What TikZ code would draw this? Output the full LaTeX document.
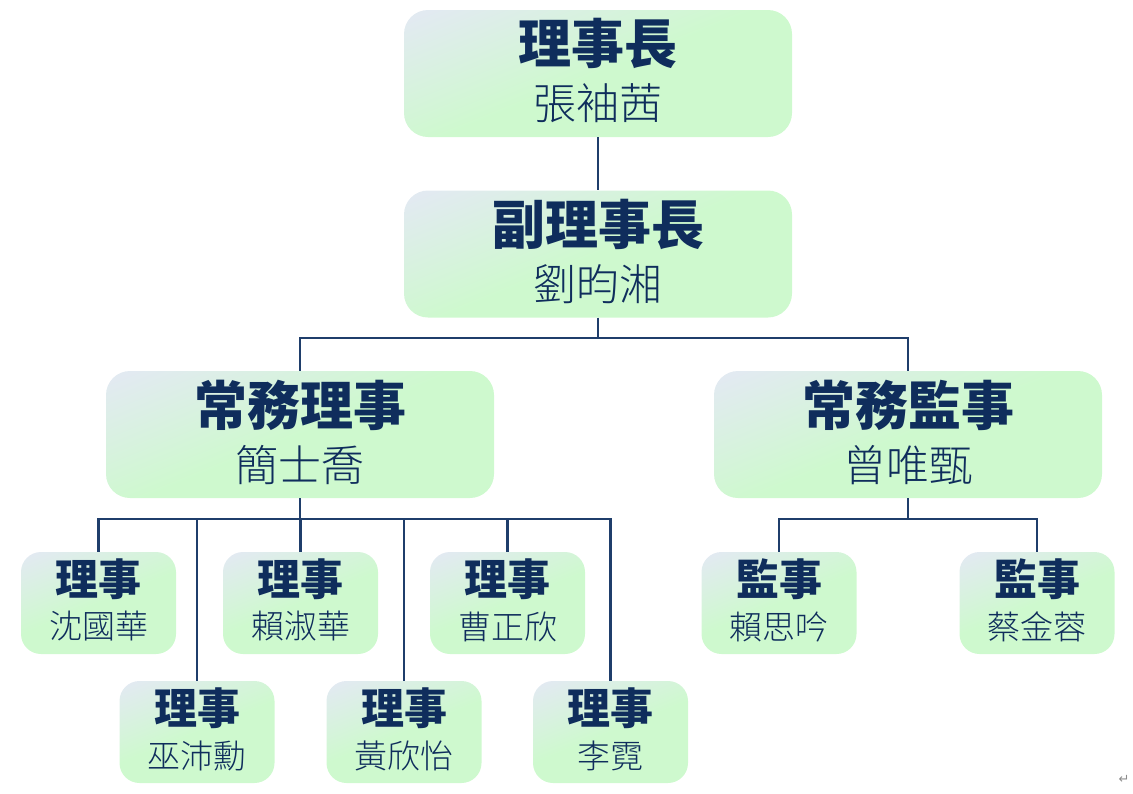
\documentclass[tikz,border=0pt]{standalone}
\usepackage{fontspec}
\newfontfamily\cjk{Noto Sans CJK TC}
\newfontfamily\cjklight{Noto Sans CJK TC Light}
\newfontfamily\djv{DejaVu Sans}
\definecolor{navy}{HTML}{1F3E6B}
\definecolor{txtnavy}{HTML}{0F2D5C}
\definecolor{boxA}{HTML}{E2EAF1}
\definecolor{boxB}{HTML}{CEF9CE}
\pgfdeclareverticalshading{boxshade}{100bp}{color(0bp)=(boxB); color(50bp)=(boxB); color(80bp)=(boxA); color(100bp)=(boxA)}
\tikzset{
  x=1pt,y=-1pt,
  orgbox/.style={rounded corners=24pt, shading=boxshade, shading angle=22, draw=none},
  bigbox/.style={orgbox, minimum width=388pt, minimum height=127pt, inner sep=0pt},
  smallbox/.style={orgbox, rounded corners=20pt, minimum width=155pt, minimum height=102pt, inner sep=0pt},
  bigtitle/.style={font=\cjk\bfseries\fontsize{53}{58}\selectfont, text=txtnavy, inner sep=0pt},
  bigname/.style={font=\cjklight\fontsize{43}{48}\selectfont, text=txtnavy, inner sep=0pt},
  smalltitle/.style={font=\cjk\bfseries\fontsize{43}{48}\selectfont, text=txtnavy, inner sep=0pt},
  smallname/.style={font=\cjklight\fontsize{33}{38}\selectfont, text=txtnavy, inner sep=0pt},
  link/.style={draw=navy, line width=2.2pt},
}
\begin{document}
\begin{tikzpicture}
\useasboundingbox (0,0) rectangle (1133,793);
% big boxes
\node[bigbox] (b1) at (598,73.5) {};
\node[bigtitle] (b1t) at (598,44) {理事長};
\node[bigname] (b1n) at (598,103) {張袖茜};
\node[bigbox] (b2) at (598,254) {};
\node[bigtitle] (b2t) at (598,224.5) {副理事長};
\node[bigname] (b2n) at (598,284) {劉昀湘};
\node[bigbox] (b3) at (300,434.5) {};
\node[bigtitle] (b3t) at (300,405) {常務理事};
\node[bigname] (b3n) at (300,465) {簡士喬};
\node[bigbox] (b4) at (908,434.5) {};
\node[bigtitle] (b4t) at (908,405) {常務監事};
\node[bigname] (b4n) at (908,465) {曾唯甄};
% small boxes
\node[smallbox] (c1) at (98.5,603) {};
\node[smalltitle] (c1t) at (98.5,579.5) {理事};
\node[smallname] (c1n) at (98.5,626.5) {沈國華};
\node[smallbox] (c2) at (300.5,603) {};
\node[smalltitle] (c2t) at (300.5,579.5) {理事};
\node[smallname] (c2n) at (300.5,626.5) {賴淑華};
\node[smallbox] (c3) at (507.5,603) {};
\node[smalltitle] (c3t) at (507.5,579.5) {理事};
\node[smallname] (c3n) at (507.5,626.5) {曹正欣};
\node[smallbox] (c4) at (197,732) {};
\node[smalltitle] (c4t) at (197,708.5) {理事};
\node[smallname] (c4n) at (197,755.5) {巫沛勳};
\node[smallbox] (c5) at (404,732) {};
\node[smalltitle] (c5t) at (404,708.5) {理事};
\node[smallname] (c5n) at (404,755.5) {黃欣怡};
\node[smallbox] (c6) at (610.5,732) {};
\node[smalltitle] (c6t) at (610.5,708.5) {理事};
\node[smallname] (c6n) at (610.5,755.5) {李霓};
\node[smallbox] (d1) at (779,603) {};
\node[smalltitle] (d1t) at (779,579.5) {監事};
\node[smallname] (d1n) at (779,626.5) {賴思吟};
\node[smallbox] (d2) at (1037,603) {};
\node[smalltitle] (d2t) at (1037,579.5) {監事};
\node[smallname] (d2n) at (1037,626.5) {蔡金蓉};
% junctions
\coordinate (j2) at (598,338);
\coordinate (j3) at (300,519);
\coordinate (j4) at (908,519);
% connectors
\draw[link] (b1.south) -- (b2.north);
\draw[link] (b2.south) -- (j2);
\draw[link] (b3.north) |- (j2) -| (b4.north);
\draw[link] (b3.south) -- (j3);
\draw[link] (c1.north) |- (j3) -| (c6.north);
\draw[link] (c2.north) -- (c2.north |- j3);
\draw[link] (c3.north) -- (c3.north |- j3);
\draw[link] (c4.north) -- (c4.north |- j3);
\draw[link] (c5.north) -- (c5.north |- j3);
\draw[link] (b4.south) -- (j4);
\draw[link] (d1.north) |- (j4) -| (d2.north);
% paragraph mark
\node[font=\djv\fontsize{13}{15}\selectfont, text=black!45, inner sep=0pt] (pm) at (1124,779) {↵};
\end{tikzpicture}
\end{document}
